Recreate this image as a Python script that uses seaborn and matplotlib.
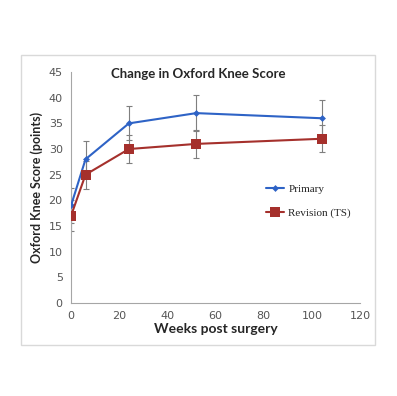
import pandas as pd
import seaborn as sns
import matplotlib.pyplot as plt
from matplotlib.patches import Rectangle

# data
weeks = [0, 6, 24, 52, 104]
primary = [19, 28, 35, 37, 36]
primary_err = [3.5, 3.5, 3.3, 3.5, 3.5]
revision = [17, 25, 30, 31, 32]
revision_err = [3.0, 2.7, 2.8, 2.7, 2.6]

df = pd.DataFrame({
    'Weeks': weeks * 2,
    'Score': primary + revision,
    'Err': primary_err + revision_err,
    'Group': ['Primary'] * len(weeks) + ['Revision (TS)'] * len(weeks),
})

sns.set_style('white')
fig = plt.figure(figsize=(3.97, 3.96), dpi=100)
ax = fig.add_axes([0.179, 0.235, 0.728, 0.583])

# light frame around the chart area
fig.patches.append(Rectangle((21 / 397, 1 - 345 / 396), 354 / 397, 290 / 396,
                             transform=fig.transFigure, fill=False,
                             edgecolor='#d9d9d9', linewidth=1))

colors = {'Primary': '#2e63c6', 'Revision (TS)': '#a5302c'}
markers = {'Primary': 'D', 'Revision (TS)': 's'}
sizes = {'Primary': 3.5, 'Revision (TS)': 7}

for g, sub in df.groupby('Group'):
    ax.errorbar(sub['Weeks'], sub['Score'], yerr=sub['Err'], fmt='none',
                ecolor='#7f7f7f', elinewidth=0.8, capsize=2, capthick=0.8, zorder=1)

for g, sub in df.groupby('Group'):
    sns.lineplot(data=sub, x='Weeks', y='Score', color=colors[g], marker=markers[g],
                 markersize=sizes[g], markeredgewidth=0, linewidth=1.5,
                 label=g, ax=ax, zorder=3)

ax.set_xlim(0, 120)
ax.set_ylim(0, 45)
ax.set_xticks(range(0, 121, 20))
ax.set_yticks(range(0, 46, 5))
ax.tick_params(labelsize=8, colors='#555555', length=2, direction='out', pad=4)
for s in ['top', 'right']:
    ax.spines[s].set_visible(False)
for s in ['left', 'bottom']:
    ax.spines[s].set_color('#a6a6a6')
    ax.spines[s].set_linewidth(0.8)
ax.set_xlabel('Weeks post surgery', fontsize=10, fontweight='bold', labelpad=1,
              family='Lato')
ax.set_ylabel('Oxford Knee Score (points)', fontsize=9, fontweight='bold', labelpad=4,
              family='Lato')
ax.text(0.44, 0.99, 'Change in Oxford Knee Score', transform=ax.transAxes,
        ha='center', va='center', fontsize=9.5, fontweight='bold', family='Lato')

ax.legend(loc='center left', bbox_to_anchor=(0.64, 0.44), frameon=False,
          prop={'family': 'Liberation Serif', 'size': 8}, handlelength=1.6,
          labelspacing=1.3, handletextpad=0.4)

fig.savefig('out.png', dpi=100)
